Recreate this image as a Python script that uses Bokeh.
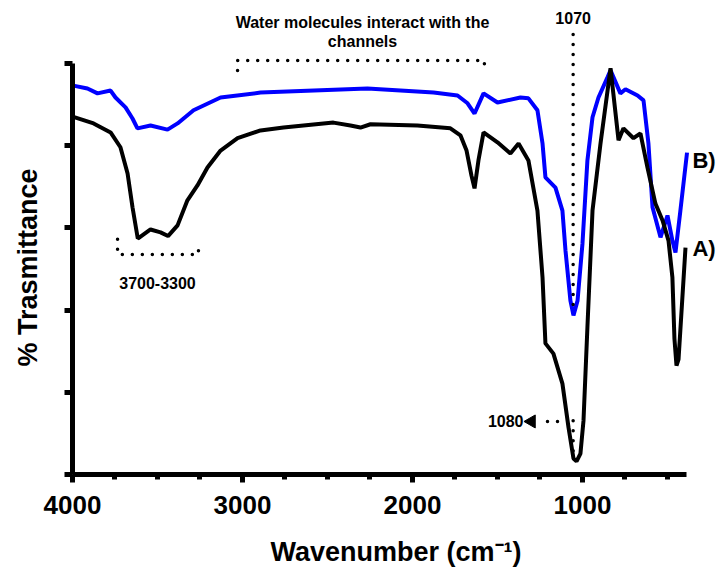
from bokeh.plotting import figure
from bokeh.models import Range1d, FixedTicker
from bokeh.core.properties import value
from bokeh.embed import file_html
from bokeh.resources import INLINE
import numpy as np

# ---- data ----
wn_A = [3995, 3876, 3776, 3718, 3676, 3647, 3616, 3541, 3482, 3438, 3382, 3324, 3265, 3206,
        3129, 3029, 2894, 2759, 2465, 2365, 2306, 2247, 1971, 1777, 1718, 1682, 1653, 1635,
        1612, 1582, 1500, 1424, 1376, 1318, 1265, 1235, 1218, 1171, 1118, 1082, 1053, 1035,
        1012, 994, 971, 941, 894, 835, 788, 759, 700, 659, 618, 571, 529, 494, 471, 459,
        447, 435, 394]
tr_A = [87.0, 85.4, 83.2, 79.6, 73.2, 65.0, 57.4, 59.6, 58.9, 58.0, 60.6, 66.7, 70.3, 74.7,
        78.8, 81.8, 83.7, 84.4, 85.6, 84.9, 84.4, 85.2, 84.9, 84.2, 82.5, 78.8, 72.7, 69.6,
        76.4, 83.2, 80.8, 78.1, 80.5, 76.4, 64.2, 47.9, 31.9, 29.4, 22.1, 11.4, 3.9, 3.2,
        5.1, 13.1, 35.8, 64.2, 80.5, 98.8, 81.3, 84.2, 81.8, 83.0, 74.7, 65.9, 61.8, 56.9,
        47.9, 33.0, 26.5, 28.0, 55.2]

wn_B = [3995, 3912, 3853, 3776, 3747, 3688, 3647, 3618, 3541, 3441, 3382, 3288, 3129, 2894,
        2265, 1876, 1735, 1676, 1635, 1582, 1500, 1365, 1318, 1265, 1235, 1218, 1159, 1118,
        1100, 1071, 1053, 1029, 1000, 971, 941, 906, 853, 835, 777, 747, 676, 641, 612, 588,
        541, 500, 471, 453, 424, 385]
tr_B = [94.6, 93.9, 92.7, 93.4, 91.7, 89.3, 86.6, 84.2, 84.9, 83.9, 85.4, 88.6, 91.7, 92.9,
        93.9, 92.9, 92.2, 90.3, 87.8, 92.7, 90.5, 91.7, 91.5, 88.6, 80.5, 72.3, 69.8, 64.2,
        54.5, 42.3, 38.7, 42.3, 56.2, 76.4, 86.9, 91.7, 96.6, 98.3, 92.7, 93.7, 92.2, 91.0,
        80.5, 65.0, 57.7, 63.0, 56.9, 54.0, 64.2, 78.3]

x_major = [4000, 3000, 2000, 1000]
x_minor = [3750, 3500, 3250, 2750, 2500, 2250, 1750, 1500, 1250, 750, 500]
y_ticks = [0, 20, 40, 60, 80, 100]
x_labels = ["4000", "3000", "2000", "1000"]

FONT = "Liberation Sans"

# trailing no-break spaces centre the visible title on the drawn axis (0..100)
y_title = "% Trasmittance" + "\u00a0" * 8

p = figure(width=719, height=575, output_backend="svg", toolbar_location=None,
           x_range=Range1d(4000, 194), y_range=Range1d(0, 115.3),
           min_border_left=72, min_border_right=0, min_border_top=0, min_border_bottom=101,
           x_axis_label="Wavenumber (cm\u207b\u00b9)", y_axis_label=y_title)
p.outline_line_color = None
p.grid.visible = False
p.background_fill_color = "white"

p.line(wn_B, tr_B, color="#0000ff", line_width=4)
p.line(wn_A, tr_A, color="black", line_width=4)

for ax in (p.xaxis[0], p.yaxis[0]):
    ax.axis_line_width = 5
    ax.axis_line_color = "black"
    ax.major_tick_line_width = 5
    ax.minor_tick_line_width = 5
    ax.major_tick_line_color = "black"
    ax.minor_tick_line_color = "black"
    ax.major_tick_out = 8
    ax.major_tick_in = 0
    ax.minor_tick_in = 0
    ax.axis_label_text_font = FONT
    ax.axis_label_text_font_style = "bold"
    ax.axis_label_text_font_size = "27px"
    ax.axis_label_text_color = "black"
    ax.major_label_text_font = FONT
    ax.major_label_text_font_style = "bold"
    ax.major_label_text_font_size = "26px"
    ax.major_label_text_color = "black"

p.xaxis.bounds = (4000, 390)
p.yaxis.bounds = (0, 100)
p.xaxis.ticker = FixedTicker(ticks=x_major, minor_ticks=x_minor)
p.xaxis.major_label_overrides = {t: s for t, s in zip(x_major, x_labels)}
p.xaxis.minor_tick_out = 5
p.xaxis.major_label_standoff = 13
p.xaxis.axis_label_standoff = 20
# y axis: ticks without labels (drawn as minor ticks so no tick texts exist)
p.yaxis.ticker = FixedTicker(ticks=[], minor_ticks=y_ticks)
p.yaxis.minor_tick_out = 8
p.yaxis.axis_label_standoff = 22

# ---- annotations ----
dot = dict(color="black", line_width=3.5, line_dash="0 10", line_cap="round")
txt = dict(text_font=value(FONT), text_font_style="bold", text_color="black",
           text_baseline="middle")

# water bracket
p.line([3029, 3029, 1577, 1577], [98.3, 100.7, 100.7, 98.0], **dot)
p.text(x=[2294, 2294], y=[110.0, 105.3],
       text=["Water molecules interact with the", "channels"],
       text_align="center", text_font_size="16px", **txt)

# 3700-3300 bracket
p.line([3735, 3735, 3259, 3259], [57.2, 53.5, 53.5, 56.0], **dot)
p.text(x=[3500], y=[46.7], text=["3700-3300"], text_align="center",
       text_font_size="16px", **txt)

# 1070 marker
p.line([1055, 1055], [107.0, 40.6], **dot)
p.text(x=[1055], y=[111.0], text=["1070"], text_align="center",
       text_font_size="16px", **txt)

# 1080 marker
p.line([1055, 1055], [13.1, 5.8], **dot)
p.line([1147, 1240], [12.9, 12.9], **dot)
p.scatter([1300], [12.9], marker="triangle", size=13, angle=np.pi / 2,
          color="black")
p.text(x=[1347], y=[12.9], text=["1080"], text_align="right",
       text_font_size="16px", **txt)

# series labels
p.text(x=[353, 353], y=[76.4, 55.0], text=["B)", "A)"], text_align="left",
       text_font_size="22px", **txt)

open("out.html", "w").write(file_html(p, INLINE))
